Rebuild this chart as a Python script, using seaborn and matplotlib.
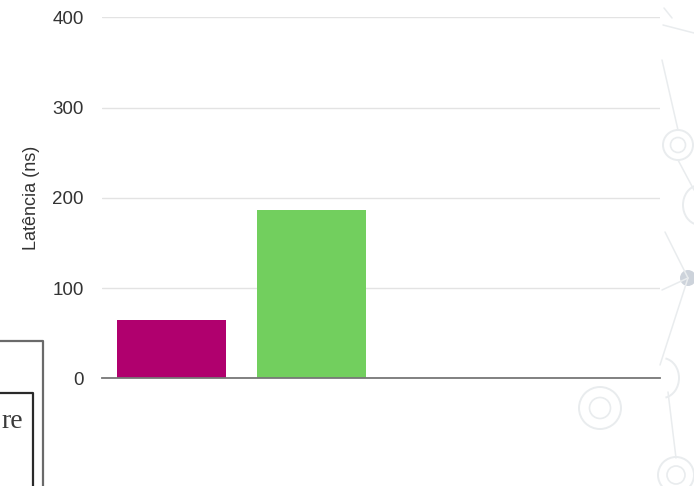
import matplotlib
matplotlib.use("Agg")
import matplotlib.pyplot as plt
from matplotlib.patches import Circle, Arc
import seaborn as sns
import pandas as pd
import numpy as np

# Latency per memory level (only the first two levels are measured)
levels = ["Nível 1", "Nível 2", "Nível 3", "Nível 4"]
latency_ns = [65, 186, np.nan, np.nan]
bar_colors = ["#B0006E", "#72CF5E", "#4A86E8", "#F6B26B"]
y_ticks = [0, 100, 200, 300, 400]
y_label = "Latência (ns)"

df = pd.DataFrame({"nivel": levels, "latencia": latency_ns})

sns.set_theme(style="white")
plt.rcParams["font.family"] = ["Liberation Sans", "DejaVu Sans"]

W, H = 694, 486
fig = plt.figure(figsize=(W / 100, H / 100), dpi=100)
fig.patch.set_facecolor("white")

# Slide background ornaments drawn in pixel space behind the chart
bg = fig.add_axes([0, 0, 1, 1], zorder=0)
bg.set_xlim(0, W)
bg.set_ylim(H, 0)
bg.axis("off")
faint = "#e9ecee"
bg.plot([0, 43, 43], [341, 341, H], color="#6a6a6a", lw=1.6)
bg.plot([0, 33, 33], [393, 393, H], color="#2a2a2a", lw=1.6)
bg.text(1, 428, "re", family="Liberation Serif", fontsize=20,
        color="#3a3a3a", ha="left", va="baseline")
for cx, cy, r in [(600, 408, 21), (676, 475, 18), (678, 145, 15)]:
    bg.add_patch(Circle((cx, cy), r, fill=False, ec=faint, lw=1.4))
    bg.add_patch(Circle((cx, cy), r * 0.5, fill=False, ec=faint, lw=1.2))
bg.add_patch(Arc((662, 378), 34, 40, theta1=-80, theta2=80, ec=faint, lw=1.4))
bg.add_patch(Arc((700, 205), 34, 40, theta1=100, theta2=260, ec=faint, lw=1.4))
bg.add_patch(Circle((688, 278), 8, fc="#cdd3db", ec="none"))
for xs, ys in [([688, 660], [278, 365]), ([688, 662], [278, 290]),
               ([688, 665], [278, 232]), ([668, 676], [392, 458]),
               ([663, 694], [25, 33]), ([678, 694], [160, 190]),
               ([662, 678], [60, 130]), ([664, 672], [8, 18])]:
    bg.plot(xs, ys, color=faint, lw=1.1)

ax = fig.add_axes([102 / W, 1 - 378.3 / H, 558 / W, 361 / H], zorder=1)
ax.patch.set_alpha(0)

sns.barplot(data=df, x="nivel", y="latencia", hue="nivel",
            palette=bar_colors, width=0.78, legend=False, ax=ax,
            saturation=1, linewidth=0)

ax.set_xlim(-0.5, len(levels) - 0.5)
ax.set_ylim(0, 400)
ax.set_yticks(y_ticks)
ax.set_yticklabels([str(t) for t in y_ticks])
ax.yaxis.grid(True, color="#e3e3e3", lw=1.0)
ax.set_axisbelow(True)
ax.set_xticks([])
ax.set_xlabel("")
ax.set_ylabel(y_label, fontsize=13, color="#333333", labelpad=9)
ax.tick_params(axis="y", length=0, pad=13, labelsize=13.5, labelcolor="#333333")
for side in ("left", "top", "right"):
    ax.spines[side].set_visible(False)
ax.spines["bottom"].set_color("#777777")
ax.spines["bottom"].set_linewidth(1.3)

fig.savefig("out.png", dpi=100, facecolor="white")
